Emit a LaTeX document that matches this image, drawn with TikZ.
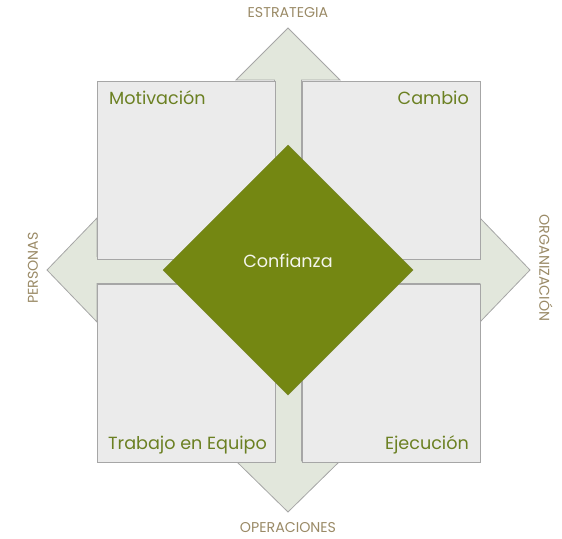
\documentclass[tikz,border=0pt]{standalone}
\usepackage{fontspec}
\setmainfont{Poppins}
\usetikzlibrary{shapes.geometric}
\definecolor{boxfill}{HTML}{EBEBEB}
\definecolor{boxline}{HTML}{A6A6A6}
\definecolor{arrfill}{HTML}{E2E7DC}
\definecolor{olive}{HTML}{748712}
\definecolor{tan}{HTML}{9A8A66}
\definecolor{boxtext}{HTML}{6B8022}
\tikzset{
  quad/.style={draw=boxline, line width=0.8pt, fill=boxfill, minimum width=178pt, minimum height=178pt, inner sep=0pt},
  quadlabel/.style={text=boxtext, font=\fontsize{17.6}{19}\selectfont, inner sep=0pt},
  axislabel/.style={text=tan, font=\fontsize{14.2}{16}\selectfont, inner sep=0pt},
}
\begin{document}
\begin{tikzpicture}[x=1pt,y=-1pt]
\useasboundingbox (0,0) rectangle (562,538);
% cross arrow
\draw[draw=boxline, line width=0.8pt, fill=arrfill, line join=miter]
  (288,28) -- (340,80) -- (301.5,80) -- (301.5,256.5) -- (480,256.5) -- (480,218) -- (530,270)
  -- (480,322) -- (480,283.5) -- (301.5,283.5) -- (301.5,461) -- (340,461) -- (288,512)
  -- (236,461) -- (274.5,461) -- (274.5,283.5) -- (97,283.5) -- (97,322) -- (47,270)
  -- (97,218) -- (97,256.5) -- (274.5,256.5) -- (274.5,80) -- (236,80) -- cycle;
% quadrants
\node[quad] (q1) at (186,170) {};
\node[quad] (q2) at (391,170) {};
\node[quad] (q3) at (186,373) {};
\node[quad] (q4) at (391,373) {};
\node[quadlabel, anchor=west] (t1) at (109,98) {Motivación};
\node[quadlabel, anchor=east] (t2) at (469,98) {Cambio};
\node[quadlabel, anchor=west] (t3) at (108,445) {Trabajo en Equipo};
\node[quadlabel, anchor=east] (t4) at (469,445) {Ejecución};
% diamond
\node[diamond, fill=olive, draw=olive!80!gray, line width=0.5pt, minimum width=250pt, minimum height=250pt, inner sep=0pt] (dia) at (288,270) {};
\node[text=white!92!olive, font=\fontsize{17.6}{19}\selectfont, inner sep=0pt] (conf) at (288,261) {Confianza};
% axis labels
\node[axislabel] (ax1) at (288,13) {ESTRATEGIA};
\node[axislabel] (ax2) at (288,528) {OPERACIONES};
\node[axislabel, rotate=90] (ax3) at (33,268) {PERSONAS};
\node[axislabel, rotate=-90] (ax4) at (546,268) {ORGANIZACIÓN};
\end{tikzpicture}
\end{document}
